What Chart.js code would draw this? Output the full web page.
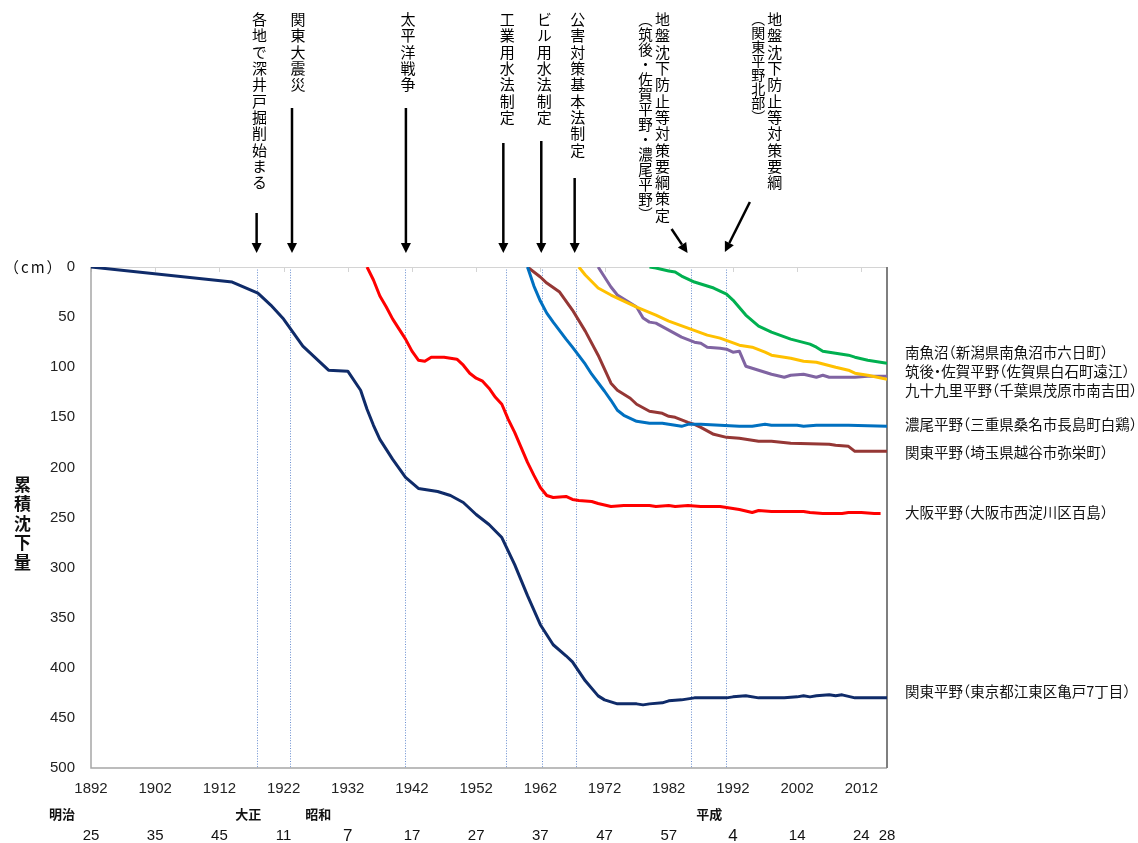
<!DOCTYPE html>
<html>
<head>
<meta charset="utf-8">
<script src="https://cdn.jsdelivr.net/npm/chart.js@4/dist/chart.umd.min.js"></script>
<style>
html,body{margin:0;padding:0;background:#fff;}
#wrap{position:relative;width:1138px;height:843px;overflow:hidden;}
#c{position:absolute;left:0;top:0;}
.vt{position:absolute;writing-mode:vertical-rl;font-family:"Noto Sans CJK JP",sans-serif;color:#000;white-space:nowrap;line-height:17px;}
.lab{position:absolute;font-family:"Noto Sans CJK JP",sans-serif;font-size:14.5px;color:#111;white-space:nowrap;line-height:18px;font-feature-settings:"halt";}
#unit{position:absolute;left:4px;top:257px;font-family:"Noto Sans CJK JP",sans-serif;font-size:15px;letter-spacing:2px;color:#111;line-height:20px;}
#ytitle{position:absolute;left:12px;top:476px;writing-mode:vertical-rl;font-family:"Noto Sans CJK JP",sans-serif;font-weight:bold;font-size:17px;letter-spacing:2.5px;line-height:20px;color:#111;}
</style>
</head>
<body>
<div id="wrap">
<canvas id="c" width="1138" height="843"></canvas>
<div id="unit">（cm）</div>
<div id="ytitle">累積沈下量</div>
</div>
<script>
// ---------- data ----------
const xTickYears = [1892,1902,1912,1922,1932,1942,1952,1962,1972,1982,1992,2002,2012];
const eraNumYears = [1892,1902,1912,1922,1932,1942,1952,1962,1972,1982,1992,2002,2012,2016];
const eraNumLabels = ['25','35','45','11','7','17','27','37','47','57','4','14','24','28'];
const eraNameYears = [1887.5,1916.5,1927.4,1988.3];
const eraNames = ['明治','大正','昭和','平成'];

const eventYears = [1917.8,1923,1940.9,1956.7,1962.3,1967.5,1985.4,1990.9];
const eventLabels = ['各地で深井戸掘削始まる','関東大震災','太平洋戦争','工業用水法制定','ビル用水法制定','公害対策基本法制定',
  '地盤沈下防止等対策要綱策定（筑後・佐賀平野・濃尾平野）','地盤沈下防止等対策要綱（関東平野北部）'];

const seriesNames = ['関東平野（東京都江東区亀戸7丁目）','大阪平野（大阪市西淀川区百島）','濃尾平野（三重県桑名市長島町白鶏）',
  '関東平野（埼玉県越谷市弥栄町）','九十九里平野（千葉県茂原市南吉田）','筑後・佐賀平野（佐賀県白石町遠江）','南魚沼（新潟県南魚沼市六日町）'];

const koutouYears = [1892,1914,1918,1920,1922,1925,1929,1932,1934,1935,1936,1937,1939,1941,1943,1946,1948,1950,1952,1954,1956,1958,1960,1962,1964,1966,1967,1969,1971,1972,1974,1977,1978,1979,1981,1982,1984,1986,1988,1991,1992,1994,1996,1998,2000,2002,2003,2004,2005,2007,2008,2009,2011,2016];
const koutouValues = [0,15,26,38,52,79,103,104,123,142,158,172,192,210,221,224,228,235,247,257,270,297,328,357,377,388,394,413,428,432,436,436,437,436,435,433,432,430,430,430,429,428,430,430,430,429,428,429,428,427,428,427,430,430];

const osakaYears = [1935,1936,1937,1938,1939,1940,1941,1942,1943,1944,1945,1947,1949,1950,1951,1952,1953,1954,1955,1956,1957,1958,1959,1960,1961,1962,1963,1964,1966,1967,1968,1970,1971,1973,1975,1977,1979,1980,1982,1983,1985,1987,1990,1992,1993,1995,1996,1998,2003,2004,2006,2009,2010,2012,2014,2015];
const osakaValues = [0,13,29,40,52,62,72,84,93,94,90,90,92,98,106,111,114,121,130,137,152,165,180,195,208,220,228,230,229,232,233,234,236,239,238,238,238,239,238,239,238,239,239,241,242,245,243,244,244,245,246,246,245,245,246,246];

const nobiYears = [1960,1961,1962,1963,1964,1966,1967,1969,1970,1972,1973,1974,1975,1976,1977,1979,1981,1982,1984,1985,1987,1990,1993,1995,1997,1998,2002,2003,2005,2010,2016];
const nobiValues = [0,19,34,46,55,72,80,97,107,124,133,143,148,151,154,156,156,157,159,157,157,158,159,159,157,158,158,159,158,158,159];

const saitamaYears = [1960,1962,1963,1965,1967,1969,1971,1973,1974,1976,1977,1979,1981,1982,1983,1985,1986,1987,1989,1991,1993,1996,1998,2001,2007,2008,2010,2011,2016];
const saitamaValues = [0,10,16,25,43,64,88,116,123,131,137,144,146,149,150,155,157,160,167,170,171,174,174,176,177,178,179,184,184];

const kujukuriYears = [1968,1969,1971,1973,1975,1977,1980,1982,1985,1988,1990,1993,1995,1997,1998,2000,2001,2003,2005,2008,2010,2011,2013,2016];
const kujukuriValues = [0,8,21,28,34,40,48,54,61,68,71,78,80,85,88,90,91,94,95,100,103,106,108,112];

const chikugoYears = [1971,1972,1973,1974,1975,1977,1978,1979,1980,1982,1984,1986,1987,1988,1990,1991,1992,1993,1994,1996,1998,2000,2001,2003,2005,2006,2007,2011,2013,2016];
const chikugoValues = [0,10,20,28,32,40,51,55,56,63,70,75,76,80,81,82,85,84,99,103,107,110,108,107,110,108,110,110,109,109];

const uonumaYears = [1979,1980,1982,1983,1984,1986,1988,1989,1991,1992,1994,1996,1998,2001,2004,2005,2006,2008,2010,2011,2013,2016];
const uonumaValues = [0,1,4,5,9,15,19,21,27,33,48,59,65,72,77,80,84,86,88,90,93,96];

// ---------- styles / layout ----------
const seriesColors = ['#0F2B69','#FF0000','#0070C0','#953735','#FFC000','#8064A2','#00B050'];
const seriesData = [
  [koutouYears,koutouValues],[osakaYears,osakaValues],[nobiYears,nobiValues],
  [saitamaYears,saitamaValues],[kujukuriYears,kujukuriValues],[chikugoYears,chikugoValues],[uonumaYears,uonumaValues]
];
// right-hand labels: [series index, pixel y centre]
const rightLabels = [[6,352],[5,371],[4,390],[2,424],[3,452],[1,512],[0,691]];
// annotation columns: event index, part, x offset from event line, font size, letter spacing
const annotCols = [
  [0,0,3,15,1.3],[1,0,8,15,1.3],[2,0,3,15,1.3],[3,0,1,15,1.3],[4,0,2,15,1.3],[5,0,2,15,1.3],
  [6,0,-28,15,1.3],[6,1,-45,14.5,0.5],[7,0,49,15,1.3],[7,1,32,14,0]
];
// arrows: event index, start x offset, start y, tip x offset, tip y
const arrows = [
  [0,0,213,0,253],[1,2,108,2,253],[2,1,108,1,253],[3,-3,143,-3,253],[4,-1,141,-1,253],[5,-1,178,-1,253],
  [6,-19,229,-3,253],[7,24,202,-1,252]
];

const tickFont = {family:'"Liberation Sans", Arial, sans-serif', size:15};

const overlay = {
  id:'overlay',
  beforeDatasetsDraw(chart){
    const {ctx, chartArea:a, scales:{x}} = chart;
    ctx.save();
    ctx.strokeStyle = 'rgba(68,114,196,0.8)';
    ctx.lineWidth = 1;
    ctx.setLineDash([1,1.6]);
    eventYears.forEach(yr=>{
      const px = Math.round(x.getPixelForValue(yr))+0.5;
      ctx.beginPath(); ctx.moveTo(px,a.top); ctx.lineTo(px,a.bottom); ctx.stroke();
    });
    ctx.setLineDash([]);
    ctx.strokeStyle = '#d4d4d4'; ctx.lineWidth = 1;
    ctx.beginPath(); ctx.moveTo(a.left,a.top+0.5); ctx.lineTo(a.right,a.top+0.5); ctx.stroke();
    xTickYears.forEach(yr=>{
      const px = Math.round(x.getPixelForValue(yr))+0.5;
      ctx.beginPath(); ctx.moveTo(px,a.top); ctx.lineTo(px,a.top+5); ctx.stroke();
    });
    ctx.strokeStyle = '#a6a6a6'; ctx.lineWidth = 1.5;
    ctx.beginPath(); ctx.moveTo(a.left,a.top); ctx.lineTo(a.left,a.bottom); ctx.lineTo(a.right,a.bottom); ctx.stroke();
    ctx.strokeStyle = '#7f7f7f'; ctx.lineWidth = 2;
    ctx.beginPath(); ctx.moveTo(a.right,a.top); ctx.lineTo(a.right,a.bottom); ctx.stroke();
    ctx.restore();
  },
  afterDraw(chart){
    const {ctx, scales:{x}} = chart;
    ctx.save();
    ctx.strokeStyle = '#000'; ctx.fillStyle = '#000'; ctx.lineWidth = 2.5;
    arrows.forEach(([ev,dx0,y0,dx1,y1])=>{
      const ex = x.getPixelForValue(eventYears[ev]);
      const x0 = ex+dx0, x1 = ex+dx1;
      const ang = Math.atan2(y1-y0, x1-x0);
      const hl = 10, hw = 5;
      const bx = x1 - hl*Math.cos(ang), by = y1 - hl*Math.sin(ang);
      ctx.beginPath(); ctx.moveTo(x0,y0); ctx.lineTo(bx,by); ctx.stroke();
      ctx.beginPath();
      ctx.moveTo(x1,y1);
      ctx.lineTo(bx + hw*Math.sin(ang), by - hw*Math.cos(ang));
      ctx.lineTo(bx - hw*Math.sin(ang), by + hw*Math.cos(ang));
      ctx.closePath(); ctx.fill();
    });
    ctx.fillStyle = '#111';
    ctx.textAlign = 'center'; ctx.textBaseline = 'middle';
    ctx.font = 'bold 13px "Noto Sans CJK JP", sans-serif';
    eraNames.forEach((n,i)=>{ ctx.fillText(n, x.getPixelForValue(eraNameYears[i]), 814); });
    eraNumLabels.forEach((t,i)=>{
      ctx.font = (t.length===1 ? '17px' : '15px') + ' "Liberation Sans", Arial, sans-serif';
      ctx.fillText(t, x.getPixelForValue(eraNumYears[i]), 836);
    });
    ctx.restore();
  }
};

const chart = new Chart(document.getElementById('c'), {
  type:'line',
  data:{
    datasets: seriesData.map(([ys,vs],i)=>({
      label: seriesNames[i],
      data: ys.map((yr,k)=>({x:yr, y:vs[k]})),
      borderColor: seriesColors[i],
      backgroundColor: seriesColors[i],
      borderWidth: 3,
      pointRadius: 0,
      fill: false,
      tension: 0,
      borderJoinStyle: 'round'
    }))
  },
  options:{
    responsive:false,
    animation:false,
    layout:{padding:{left:0,right:251,top:267,bottom:0}},
    plugins:{legend:{display:false}, tooltip:{enabled:false}},
    scales:{
      x:{
        type:'linear', min:1892, max:2016,
        afterBuildTicks:(s)=>{ s.ticks = xTickYears.map(v=>({value:v})); },
        afterFit:(s)=>{ s.height = 75; },
        grid:{display:false}, border:{display:false},
        ticks:{font:tickFont, color:'#222', padding:4, maxRotation:0, autoSkip:false, callback:(v)=>String(v)}
      },
      y:{
        reverse:true, min:0, max:500,
        afterFit:(s)=>{ s.width = 91; },
        grid:{display:false}, border:{display:false},
        ticks:{stepSize:50, font:tickFont, color:'#222', padding:8}
      }
    }
  },
  plugins:[overlay]
});

const wrap = document.getElementById('wrap');
const xs = chart.scales.x;
annotCols.forEach(([ev,part,dx,fs,ls])=>{
  const parts = eventLabels[ev].split('（');
  const txt = part===0 ? parts[0] : '（'+parts[1];
  const d = document.createElement('div');
  d.className = 'vt';
  d.textContent = txt;
  d.style.fontSize = fs+'px';
  d.style.letterSpacing = ls+'px';
  const cx = xs.getPixelForValue(eventYears[ev]) + dx;
  d.style.left = (cx - 8.5)+'px';
  d.style.top = '12px';
  wrap.appendChild(d);
});
rightLabels.forEach(([si,py])=>{
  const d = document.createElement('div');
  d.className = 'lab';
  d.textContent = seriesNames[si];
  d.style.left = (chart.chartArea.right + 18)+'px';
  d.style.top = (py - 9)+'px';
  wrap.appendChild(d);
});
</script>
</body>
</html>
